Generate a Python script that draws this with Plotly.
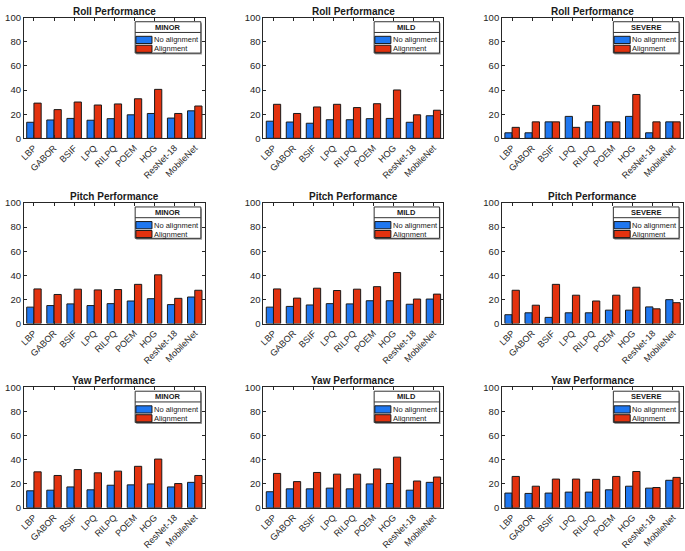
import plotly.graph_objects as go

methods = ["LBP", "GABOR", "BSIF", "LPQ", "RILPQ", "POEM", "HOG", "ResNet-18", "MobileNet"]
levels = ["MINOR", "MILD", "SEVERE"]
poses = ["Roll", "Pitch", "Yaw"]

# Roll
roll_minor_no = [13.3, 15.2, 16.5, 15.0, 16.3, 19.5, 20.6, 16.8, 22.8]
roll_minor_al = [29.2, 23.8, 30.1, 27.6, 28.5, 32.8, 40.6, 20.6, 26.8]
roll_mild_no = [14.2, 13.5, 12.5, 15.4, 15.4, 16.3, 16.5, 13.3, 18.7]
roll_mild_al = [28.2, 20.6, 26.0, 28.2, 25.5, 28.7, 40.1, 19.5, 23.3]
roll_severe_no = [4.55, 4.55, 13.64, 18.18, 13.64, 13.64, 18.18, 4.55, 13.64]
roll_severe_al = [9.09, 13.64, 13.64, 9.09, 27.27, 13.64, 36.36, 13.64, 13.64]

# Pitch
pitch_minor_no = [13.6, 14.9, 16.3, 14.9, 16.5, 18.7, 20.6, 15.7, 22.0]
pitch_minor_al = [28.7, 24.1, 28.5, 27.9, 28.2, 32.5, 40.4, 20.9, 27.6]
pitch_mild_no = [13.6, 14.2, 15.4, 16.5, 16.3, 18.9, 18.9, 16.0, 20.3]
pitch_mild_al = [28.7, 21.1, 29.3, 27.4, 28.5, 30.6, 42.3, 20.3, 24.4]
pitch_severe_no = [7.3, 8.9, 5.1, 8.9, 8.9, 11.1, 11.1, 13.8, 19.8]
pitch_severe_al = [27.6, 15.2, 32.5, 23.5, 18.7, 23.5, 30.1, 12.2, 17.3]

# Yaw
yaw_minor_no = [14.1, 14.6, 17.3, 14.9, 18.7, 19.0, 19.8, 17.3, 21.1]
yaw_minor_al = [29.8, 26.8, 31.7, 29.0, 30.4, 34.4, 40.4, 20.1, 26.8]
yaw_mild_no = [13.3, 15.7, 15.7, 16.3, 15.7, 19.8, 20.1, 14.6, 21.1]
yaw_mild_al = [28.5, 21.7, 29.3, 27.9, 27.9, 32.2, 42.0, 22.2, 25.5]
yaw_severe_no = [12.2, 11.9, 12.2, 13.0, 13.0, 14.9, 17.9, 16.3, 22.8]
yaw_severe_al = [26.0, 17.9, 23.8, 23.8, 23.6, 26.0, 30.1, 16.8, 25.2]

series = {
    ("Roll", "MINOR"): (roll_minor_no, roll_minor_al),
    ("Roll", "MILD"): (roll_mild_no, roll_mild_al),
    ("Roll", "SEVERE"): (roll_severe_no, roll_severe_al),
    ("Pitch", "MINOR"): (pitch_minor_no, pitch_minor_al),
    ("Pitch", "MILD"): (pitch_mild_no, pitch_mild_al),
    ("Pitch", "SEVERE"): (pitch_severe_no, pitch_severe_al),
    ("Yaw", "MINOR"): (yaw_minor_no, yaw_minor_al),
    ("Yaw", "MILD"): (yaw_mild_no, yaw_mild_al),
    ("Yaw", "SEVERE"): (yaw_severe_no, yaw_severe_al),
}

BLUE = "#1f77f0"
RED = "#e3320f"
EDGE = "#1a1a1a"
FONT = "Liberation Sans, Arial, sans-serif"

W, H = 685, 551
col_px = [(20, 202), (261, 442), (501, 683)]
row_px = [(12, 135), (201, 324), (389, 512)]

fig = go.Figure()
layout = dict(
    width=W, height=H, margin=dict(l=0, r=0, t=0, b=0),
    paper_bgcolor="white", plot_bgcolor="white",
    barmode="group", bargap=0.28, bargroupgap=0.0,
    showlegend=False, font=dict(family=FONT, color="#262626"),
)
shapes = []
annotations = []

k = 0
for r, pose in enumerate(poses):
    for c, lvl in enumerate(levels):
        k += 1
        sfx = "" if k == 1 else str(k)
        xa, ya = "x" + sfx, "y" + sfx
        no_vals, al_vals = series[(pose, lvl)]
        fig.add_trace(go.Bar(x=methods, y=no_vals, name="No alignment", xaxis=xa, yaxis=ya,
                             marker=dict(color=BLUE, line=dict(color=EDGE, width=1))))
        fig.add_trace(go.Bar(x=methods, y=al_vals, name="Alignment", xaxis=xa, yaxis=ya,
                             marker=dict(color=RED, line=dict(color=EDGE, width=1))))
        x0, x1 = col_px[c]
        y0, y1 = row_px[r]
        layout["xaxis" + sfx] = dict(
            domain=[x0 / W, x1 / W], anchor=ya, type="category",
            range=[-0.5, len(methods) - 0.5],
            showline=True, linecolor="#262626", linewidth=1, mirror="ticks",
            ticks="inside", ticklen=3, tickcolor="#262626",
            tickangle=-45, tickfont=dict(size=9, family=FONT, color="#262626"),
            showgrid=False, zeroline=False, fixedrange=True,
        )
        layout["yaxis" + sfx] = dict(
            domain=[1 - y1 / H, 1 - y0 / H], anchor=xa,
            range=[0, 100], tickvals=[0, 20, 40, 60, 80, 100],
            showline=True, linecolor="#262626", linewidth=1, mirror="ticks",
            ticks="inside", ticklen=3, tickcolor="#262626",
            tickfont=dict(size=9.5, family=FONT, color="#262626"),
            showgrid=False, zeroline=False, fixedrange=True,
        )
        xd, yd = xa + " domain", ya + " domain"
        # title
        annotations.append(dict(text="<b>%s Performance</b>" % pose, xref=xd, yref=yd,
                                x=0.5, y=1.0, xanchor="center", yanchor="bottom", yshift=-1,
                                showarrow=False, font=dict(size=10, family=FONT, color="#1a1a1a")))
        # custom legend box
        lx0, lx1 = 0.615, 0.978
        ly_top, ly_bot, ly_sep = 0.967, 0.707, 0.878
        shapes.append(dict(type="rect", xref=xd, yref=yd, x0=lx0 + 0.006, x1=lx1 + 0.006,
                           y0=ly_bot - 0.012, y1=ly_top - 0.012,
                           fillcolor="#9a9a9a", line=dict(width=0), layer="above"))
        shapes.append(dict(type="rect", xref=xd, yref=yd, x0=lx0, x1=lx1, y0=ly_bot, y1=ly_top,
                           fillcolor="white", line=dict(color="#333333", width=1), layer="above"))
        shapes.append(dict(type="line", xref=xd, yref=yd, x0=lx0, x1=lx1, y0=ly_sep, y1=ly_sep,
                           line=dict(color="#333333", width=1), layer="above"))
        annotations.append(dict(text="<b>%s</b>" % lvl, xref=xd, yref=yd,
                                x=(lx0 + lx1) / 2, y=(ly_top + ly_sep) / 2,
                                xanchor="center", yanchor="middle", showarrow=False,
                                font=dict(size=7.5, family=FONT, color="#1a1a1a")))
        patches = [(0.846, 0.786, BLUE, "No alignment"), (0.772, 0.713, RED, "Alignment")]
        for (pt, pb, colr, lab) in patches:
            shapes.append(dict(type="rect", xref=xd, yref=yd, x0=lx0 + 0.004, x1=0.708,
                               y0=pb, y1=pt, fillcolor=colr,
                               line=dict(color=EDGE, width=1), layer="above"))
            annotations.append(dict(text=lab, xref=xd, yref=yd, x=0.708, y=(pt + pb) / 2,
                                    xanchor="left", yanchor="middle", showarrow=False,
                                    font=dict(size=7.5, family=FONT, color="#1a1a1a")))

layout["shapes"] = shapes
layout["annotations"] = annotations
fig.update_layout(**layout)
fig.write_html(
    "out.html",
    config={"displayModeBar": False},
    post_script="document.body.style.margin='0';document.body.style.padding='0';document.body.style.overflow='hidden';",
)
